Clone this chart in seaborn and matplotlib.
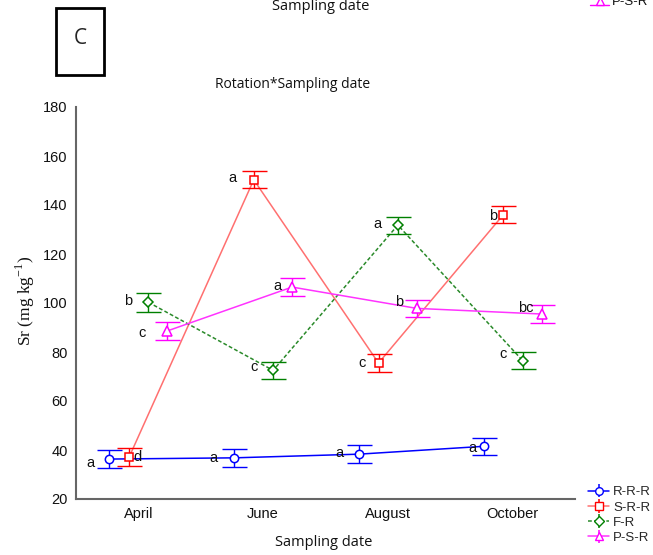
import matplotlib
matplotlib.use("Agg")
import matplotlib.pyplot as plt
import seaborn as sns
import pandas as pd
import numpy as np
from matplotlib.patches import Rectangle
from matplotlib.lines import Line2D

# Sampling dates on the x axis
dates = ["April", "June", "August", "October"]

# Rotation treatments
rotations = ["R-R-R", "S-R-R", "F-R", "P-S-R"]

# Mean Sr concentration (mg kg-1) per rotation and date
sr_rrr = [36.3, 36.8, 38.3, 41.5]
sr_srr = [37.0, 150.3, 75.5, 136.0]
sr_fr = [100.3, 72.5, 131.8, 76.5]
sr_psr = [88.6, 106.5, 97.8, 95.5]

# Standard errors
se_rrr = [3.8, 3.6, 3.6, 3.6]
se_srr = [3.7, 3.5, 3.5, 3.5]
se_fr = [3.8, 3.5, 3.5, 3.5]
se_psr = [3.5, 3.6, 3.5, 3.5]

# Letters from the post-hoc comparison
let_rrr = ["a", "a", "a", "a"]
let_srr = ["d", "a", "c", "b"]
let_fr = ["b", "c", "a", "c"]
let_psr = ["c", "a", "b", "bc"]

means = [sr_rrr, sr_srr, sr_fr, sr_psr]
errs = [se_rrr, se_srr, se_fr, se_psr]
letters = [let_rrr, let_srr, let_fr, let_psr]

sns.set_style("white")
plt.rcParams["font.family"] = ["Liberation Sans", "DejaVu Sans"]

W, H = 653, 555
fig = plt.figure(figsize=(W / 100, H / 100), dpi=100)
ax = fig.add_axes([76 / W, 1 - 499 / H, (575 - 76) / W, (499 - 107) / H])

colors = ["#0000ff", "#ff0000", "#008000", "#ff00ff"]
line_colors = ["#0000ff", "#ff7070", "#2a8a2a", "#ff33ff"]
line_styles = ["-", "-", (0, (2.5, 1.5)), "-"]
markers = ["o", "s", "D", "^"]
msizes = [6, 6, 5.5, 6.5]
dodge = [-0.232, -0.075, 0.08, 0.232]

# per-label offsets (category units, data units)
lab_dx = [[-0.15, -0.17, -0.16, -0.09],
          [0.07, -0.17, -0.13, -0.08],
          [-0.16, -0.15, -0.16, -0.16],
          [-0.2, -0.12, -0.14, -0.13]]
lab_dy = [[-1.5, 0, 0.3, -0.5],
          [0, 0.8, 0, -0.4],
          [0.5, 1.2, 0.5, 2.8],
          [-0.8, 0.4, 2.8, 2.4]]

rows = []
for r, m in zip(rotations, means):
    for i, (d, v) in enumerate(zip(dates, m)):
        rows.append({"Rotation": r, "Date": d, "idx": i, "Sr": v})
df = pd.DataFrame(rows)

x_base = np.arange(len(dates))
for k, r in enumerate(rotations):
    sub = df[df["Rotation"] == r].copy()
    sub["xpos"] = sub["idx"] + dodge[k]
    sns.lineplot(data=sub, x="xpos", y="Sr", ax=ax, color=line_colors[k],
                 linestyle=line_styles[k], linewidth=1.1, sort=False,
                 estimator=None, errorbar=None, zorder=2)
    ax.errorbar(sub["xpos"], sub["Sr"], yerr=errs[k], fmt="none",
                ecolor=colors[k], elinewidth=1.0, capsize=9, capthick=1.0,
                zorder=3)
    ax.plot(sub["xpos"], sub["Sr"], linestyle="none", marker=markers[k],
            markersize=msizes[k], markerfacecolor="white",
            markeredgecolor=colors[k], markeredgewidth=1.1, zorder=4)
    for i in range(len(dates)):
        ax.text(x_base[i] + dodge[k] + lab_dx[k][i], means[k][i] + lab_dy[k][i],
                letters[k][i], ha="center", va="center", fontsize=10.5,
                color="#111111", zorder=5)

ax.set_xlim(-0.5, 3.5)
ax.set_ylim(20, 180)
ax.set_xticks(x_base)
ax.set_xticklabels(dates)
ax.set_yticks(np.arange(20, 181, 20))
ax.tick_params(axis="both", direction="in", length=3, width=1, color="#333333",
               labelsize=10.5, pad=6, labelcolor="#111111")
ax.set_xlabel("")
ax.set_ylabel("")
for s in ["top", "right"]:
    ax.spines[s].set_visible(False)
for s in ["left", "bottom"]:
    ax.spines[s].set_color("#666666")
    ax.spines[s].set_linewidth(1.5)

# axis labels and title
fig.text(324 / W, 1 - 543 / H, "Sampling date", ha="center", va="center",
         fontsize=10.5, family=["Open Sans", "DejaVu Sans"], color="#111111")
fig.text(25 / W, 1 - 301 / H, r"Sr (mg kg$^{\mathregular{-1}}$)", ha="center",
         va="center", rotation=90, fontsize=12.5,
         family=["Liberation Serif", "DejaVu Serif"], color="#111111")
fig.text(293 / W, 1 - 84 / H, "Rotation*Sampling date", ha="center",
         va="center", fontsize=10, family=["Open Sans", "DejaVu Sans"],
         color="#111111")

# panel tag
fig.add_artist(Rectangle((56 / W, 1 - 75 / H), 48 / W, 67 / H,
                         transform=fig.transFigure, fill=False,
                         edgecolor="black", linewidth=2))
fig.text(80 / W, 1 - 38 / H, "C", ha="center", va="center", fontsize=15,
         family=["Open Sans", "DejaVu Sans"])

# fragments of the panel above
fig.text(321 / W, 1 - 6 / H, "Sampling date", ha="center", va="center",
         fontsize=10.5, family=["Open Sans", "DejaVu Sans"], color="#111111")
fig.text(612 / W, 1 - 2 / H, "P-S-R", ha="left", va="center", fontsize=9.5,
         color="#111111")
fig.add_artist(Line2D([590 / W, 609 / W], [1 - 5 / H, 1 - 5 / H],
                      transform=fig.transFigure, color="#ff00ff", lw=1))
fig.add_artist(Line2D([599.5 / W], [1 - 1 / H], transform=fig.transFigure,
                      marker="^", markersize=6, markerfacecolor="white",
                      markeredgecolor="#ff00ff", linestyle="none"))

# legend
handles = []
for k in range(4):
    h = ax.errorbar([], [], yerr=[], color=line_colors[k],
                    linestyle=line_styles[k], linewidth=1.1,
                    marker=markers[k], markersize=msizes[k] - 0.5,
                    markerfacecolor="white", markeredgecolor=colors[k],
                    ecolor=colors[k], capsize=4)
    handles.append(h)
leg = fig.legend(handles, rotations, loc="center left",
                 bbox_to_anchor=(588 / W, 1 - 515 / H), frameon=False,
                 fontsize=9.5, handlelength=1.6, handletextpad=0.3,
                 labelspacing=0.22, borderpad=0, borderaxespad=0)

fig.savefig("out.png", dpi=100)
